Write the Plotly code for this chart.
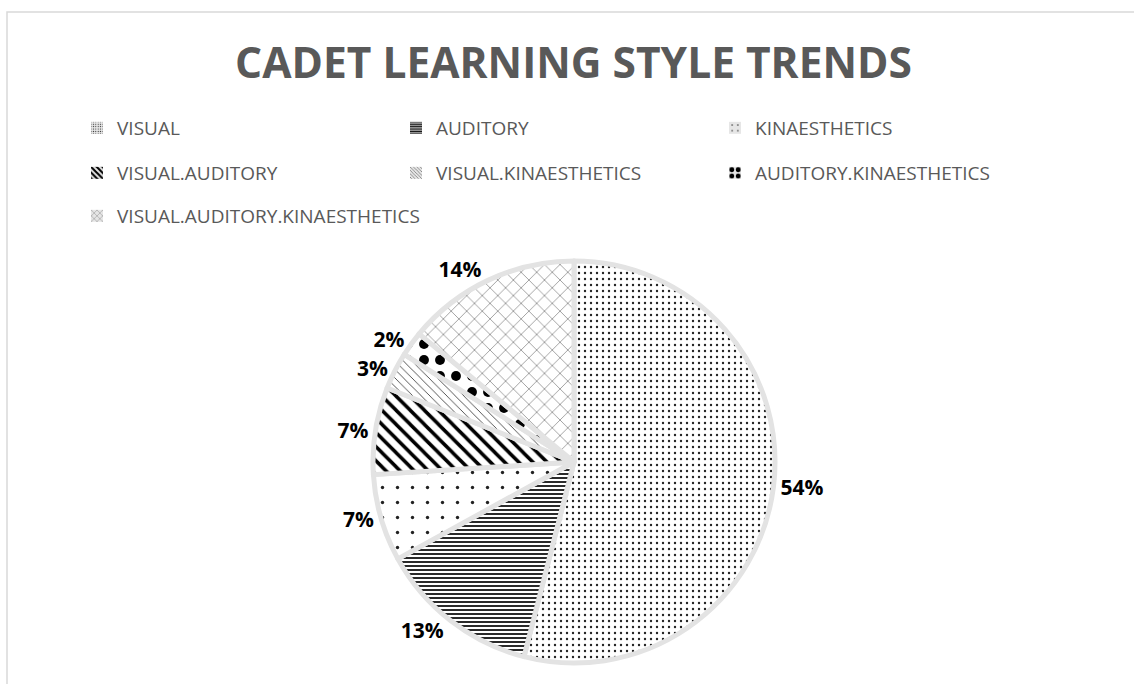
import plotly.graph_objects as go

categories = ["VISUAL", "AUDITORY", "KINAESTHETICS", "VISUAL.AUDITORY",
              "VISUAL.KINAESTHETICS", "AUDITORY.KINAESTHETICS",
              "VISUAL.AUDITORY.KINAESTHETICS"]
values = [54, 13, 7, 7, 3, 2, 14]

pat_shapes = [".", "-", ".", "\\", "\\", ".", "x"]
pat_sizes = [6, 4, 15, 10, 6, 16, 11]
pat_solid = [0.12, 0.45, 0.04, 0.35, 0.15, 0.3, 0.08]
pat_fg = ["#222", "#111", "#222", "#000", "#444", "#000", "#333"]

W, H = 1134, 684
cx, cy, r = 574, 462, 201

fig = go.Figure()
fig.add_trace(go.Pie(
    labels=categories, values=values, sort=False, direction="clockwise",
    rotation=0, showlegend=False,
    textinfo="percent", textposition="outside",
    texttemplate="<b>%{percent:.0%}</b>",
    textfont=dict(family="Open Sans", size=21, color="#000"),
    marker=dict(colors=["white"] * 7,
                line=dict(color="#e3e3e3", width=5),
                pattern=dict(shape=pat_shapes, size=pat_sizes,
                             solidity=pat_solid, fgcolor=pat_fg, fgopacity=1,
                             bgcolor="white", fillmode="replace")),
    domain=dict(x=[(cx - r) / W, (cx + r) / W], y=[(H - cy - r) / H, (H - cy + r) / H]),
))

legend_names = ["legend", "legend", "legend", "legend2", "legend2", "legend2", "legend3"]
for i, c in enumerate(categories):
    fig.add_trace(go.Bar(
        x=[None], y=[None], name=c, legend=legend_names[i], showlegend=True,
        marker=dict(color="#e6e6e6",
                    pattern=dict(shape=pat_shapes[i], size=max(3, pat_sizes[i] // 2),
                                 solidity=min(0.6, pat_solid[i] * 1.5),
                                 fgcolor=pat_fg[i], bgcolor="#e6e6e6",
                                 fgopacity=1, fillmode="replace"),
                    line=dict(width=0)),
    ))

row_y = [128, 173, 216]
entry_w = [274, 274, 420]
lg_common = dict(orientation="h", xanchor="left", yanchor="middle",
                 x=77 / W, entrywidthmode="pixels",
                 font=dict(family="Open Sans", size=19, color="#595959"),
                 bgcolor="rgba(0,0,0,0)", itemclick=False)
layout_legends = {}
for k, name in enumerate(["legend", "legend2", "legend3"]):
    layout_legends[name] = dict(lg_common, y=1 - row_y[k] / H, entrywidth=entry_w[k])

fig.update_layout(
    width=W, height=H, margin=dict(l=0, r=0, t=0, b=0),
    paper_bgcolor="white", plot_bgcolor="white",
    title=dict(text="<b>CADET LEARNING STYLE TRENDS</b>", x=573.5 / W, y=1 - 63 / H,
               xanchor="center", yanchor="middle",
               font=dict(family="Open Sans", size=42.5, color="#595959")),
    xaxis=dict(visible=False), yaxis=dict(visible=False),
    shapes=[dict(type="rect", xref="paper", yref="paper",
                 x0=7 / W, x1=1.02, y0=-0.02, y1=1 - 12 / H,
                 line=dict(color="#d9d9d9", width=1.5), layer="below")],
    **layout_legends,
)

fig.write_html("out.html")
